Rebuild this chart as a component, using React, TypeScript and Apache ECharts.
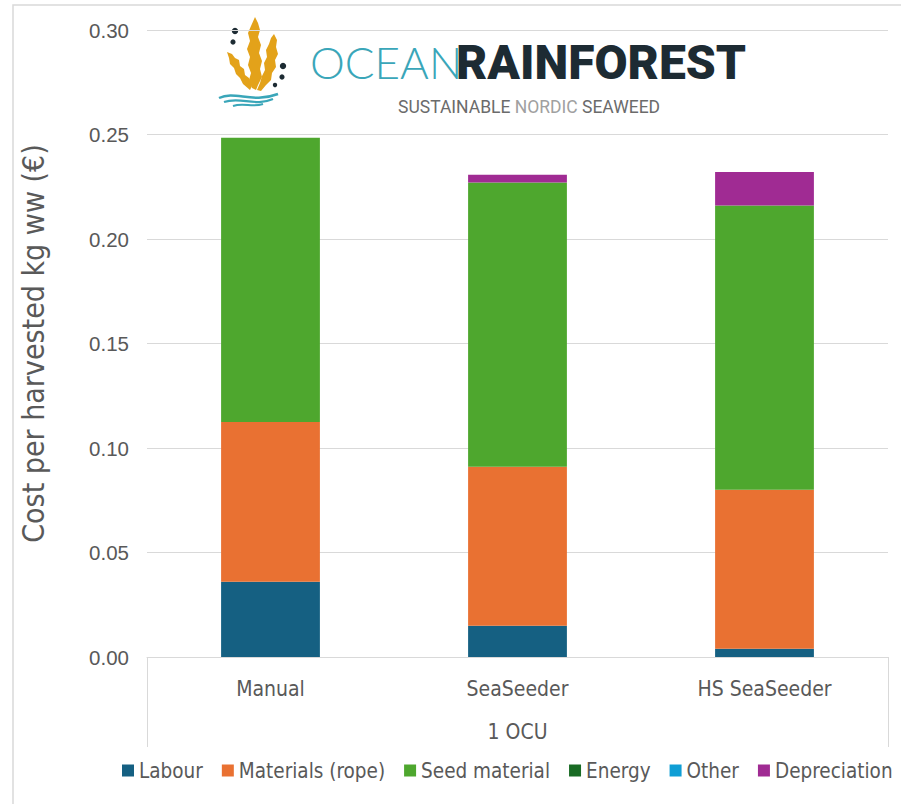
import React, { useEffect, useRef } from "react";
import * as echarts from "echarts";

const categories = ["Manual", "SeaSeeder", "HS SeaSeeder"];
const labour = [0.036, 0.015, 0.004];
const materials = [0.0765, 0.076, 0.076];
const seedMaterial = [0.136, 0.136, 0.136];
const energy = [0, 0, 0];
const other = [0, 0, 0];
const depreciation = [0, 0.0038, 0.016];
const yTicks = { min: 0, max: 0.3, interval: 0.05 };
const groupLabel = "1 OCU";
const yTitle = "Cost per harvested kg ww (€)";

const seriesDefs = [
  { name: "Labour", data: labour, color: "#156082" },
  { name: "Materials (rope)", data: materials, color: "#E97132" },
  { name: "Seed material", data: seedMaterial, color: "#4EA72E" },
  { name: "Energy", data: energy, color: "#196B24" },
  { name: "Other", data: other, color: "#0F9ED5" },
  { name: "Depreciation", data: depreciation, color: "#A02B93" },
];

const NARROW = "'DejaVu Sans Condensed', 'Liberation Sans Narrow', 'Roboto', sans-serif";

export default function App() {
  const ref = useRef<HTMLDivElement>(null);
  useEffect(() => {
    document.body.style.margin = "0";
    if (!ref.current) return;
    const chart = echarts.init(ref.current, null, { renderer: "svg" });
    const orange = "#E3A21A";
    const dark = "#1D2B33";
    const teal = "#3AA6B9";
    chart.setOption({
      animation: false,
      backgroundColor: "#ffffff",
      grid: { left: 147, right: 13, top: 30, bottom: 147 },
      legend: {
        left: 122,
        top: 760,
        width: 779,
        padding: 0,
        itemWidth: 12,
        itemHeight: 12,
        itemGap: 19,
        icon: "rect",
        textStyle: { color: "#595959", fontSize: 20.5, fontFamily: NARROW },
        data: seriesDefs.map((s) => s.name),
      },
      xAxis: {
        type: "category",
        data: categories,
        axisLine: { show: true, lineStyle: { color: "#D9D9D9", width: 1 } },
        axisTick: { show: false },
        axisLabel: { color: "#595959", fontSize: 21, fontFamily: NARROW, margin: 21 },
        name: groupLabel,
        nameLocation: "middle",
        nameGap: 64,
        nameTextStyle: { color: "#595959", fontSize: 21, fontFamily: NARROW },
      },
      yAxis: {
        type: "value",
        min: yTicks.min,
        max: yTicks.max,
        interval: yTicks.interval,
        axisLine: { show: false },
        axisTick: { show: false },
        splitLine: { lineStyle: { color: "#D9D9D9", width: 1 } },
        axisLabel: {
          color: "#595959",
          fontSize: 20.5,
          fontFamily: "'Liberation Sans', Arial, sans-serif",
          margin: 18,
          formatter: (v: number) => v.toFixed(2),
        },
        name: yTitle,
        nameLocation: "middle",
        nameRotate: 90,
        nameGap: 99,
        nameTextStyle: { color: "#595959", fontSize: 30, fontFamily: NARROW },
      },
      series: seriesDefs.map((s) => ({
        name: s.name,
        type: "bar",
        stack: "total",
        barWidth: "40%",
        data: s.data,
        itemStyle: { color: s.color },
      })),
      graphic: [
        {
          type: "rect",
          silent: true,
          shape: { x: 13, y: 5, width: 1000, height: 1000 },
          style: { fill: "none", stroke: "#D9D9D9", lineWidth: 1.5 },
        },
        {
          type: "line",
          silent: true,
          shape: { x1: 147.5, y1: 657, x2: 147.5, y2: 747 },
          style: { stroke: "#D9D9D9", lineWidth: 1 },
        },
        {
          type: "line",
          silent: true,
          shape: { x1: 888.5, y1: 657, x2: 888.5, y2: 747 },
          style: { stroke: "#D9D9D9", lineWidth: 1 },
        },
        // logo background
        {
          type: "rect",
          silent: true,
          shape: { x: 217, y: 12, width: 529, height: 110 },
          style: { fill: "#ffffff" },
        },
        // fronds
        {
          type: "polygon",
          silent: true,
          shape: {
            points: [
              [252, 88], [249, 80], [251, 73], [248, 65], [250, 57], [247, 49], [250, 41], [248, 33], [251, 26], [255, 17],
              [258, 23], [260, 30], [258, 37], [261, 45], [259, 53], [262, 61], [260, 69], [262, 77], [258, 85], [256, 90],
            ],
          },
          style: { fill: orange },
        },
        {
          type: "polygon",
          silent: true,
          shape: {
            points: [
              [250, 90], [243, 84], [240, 78], [236, 74], [234, 68], [230, 64], [229, 58], [227, 52],
              [232, 54], [235, 58], [239, 60], [240, 66], [244, 69], [245, 75], [249, 78], [252, 86],
            ],
          },
          style: { fill: orange },
        },
        {
          type: "polygon",
          silent: true,
          shape: {
            points: [
              [257, 90], [260, 83], [262, 76], [265, 70], [264, 63], [267, 57], [266, 50], [269, 44], [271, 38], [274, 34],
              [277, 40], [276, 47], [278, 54], [275, 60], [276, 67], [272, 73], [271, 80], [266, 85], [261, 91],
            ],
          },
          style: { fill: orange },
        },
        { type: "circle", silent: true, shape: { cx: 235, cy: 31, r: 3.2 }, style: { fill: dark } },
        { type: "circle", silent: true, shape: { cx: 233, cy: 42, r: 2.6 }, style: { fill: dark } },
        { type: "circle", silent: true, shape: { cx: 283, cy: 66, r: 3.2 }, style: { fill: dark } },
        { type: "circle", silent: true, shape: { cx: 282, cy: 77, r: 2.6 }, style: { fill: dark } },
        { type: "circle", silent: true, shape: { cx: 275, cy: 85, r: 2.2 }, style: { fill: dark } },
        {
          type: "bezierCurve",
          silent: true,
          shape: { x1: 219, y1: 98, cpx1: 235, cpy1: 90, cpx2: 252, cpy2: 104, x2: 278, y2: 94 },
          style: { stroke: teal, lineWidth: 2.5, fill: "none" },
        },
        {
          type: "bezierCurve",
          silent: true,
          shape: { x1: 224, y1: 102, cpx1: 240, cpy1: 96, cpx2: 255, cpy2: 107, x2: 273, y2: 99 },
          style: { stroke: teal, lineWidth: 2.2, fill: "none" },
        },
        {
          type: "bezierCurve",
          silent: true,
          shape: { x1: 233, y1: 106, cpx1: 244, cpy1: 102, cpx2: 252, cpy2: 108, x2: 263, y2: 104 },
          style: { stroke: teal, lineWidth: 2, fill: "none" },
        },
        {
          type: "text",
          silent: true,
          x: 310,
          y: 62,
          style: {
            text: "OCEAN",
            fill: teal,
            fontSize: 44,
            fontWeight: 300,
            fontFamily: "Lato, 'Open Sans', sans-serif",
            verticalAlign: "middle",
            textAlign: "left",
          },
        },
        {
          type: "text",
          silent: true,
          x: 456,
          y: 62,
          style: {
            text: "RAINFOREST",
            fill: dark,
            fontSize: 48,
            fontWeight: 900,
            fontFamily: "Roboto, Inter, sans-serif",
            verticalAlign: "middle",
            textAlign: "left",
          },
        },
        {
          type: "text",
          silent: true,
          x: 398,
          y: 107,
          style: {
            text: "{a|SUSTAINABLE }{b|NORDIC }{a|SEAWEED}",
            verticalAlign: "middle",
            textAlign: "left",
            rich: {
              a: { fill: "#6B6B6B", fontSize: 17.5, fontFamily: "Roboto, sans-serif" },
              b: { fill: "#A0A0A0", fontSize: 17.5, fontFamily: "Roboto, sans-serif" },
            },
          },
        },
      ],
    });
    return () => chart.dispose();
  }, []);
  return <div ref={ref} style={{ width: 901, height: 804 }} />;
}
